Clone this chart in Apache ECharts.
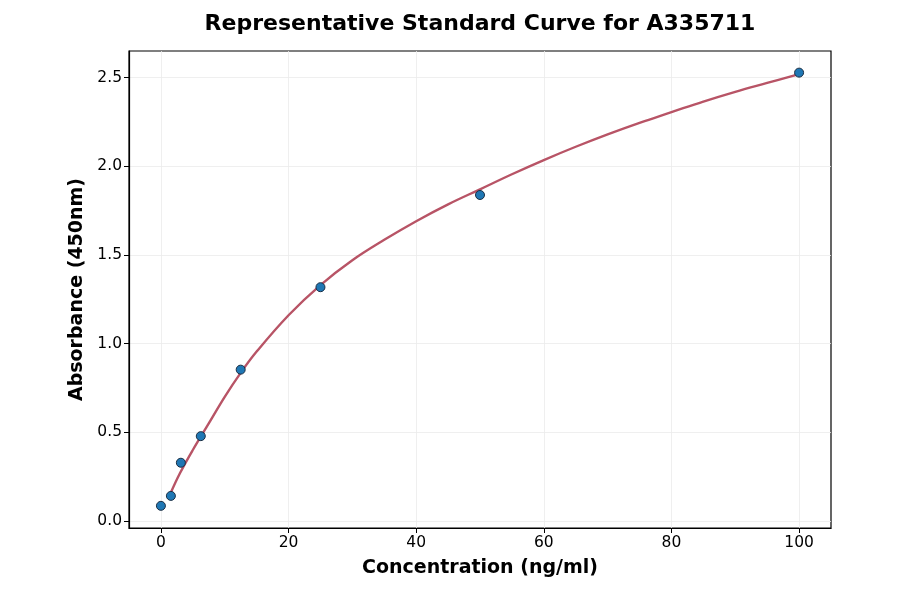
<!DOCTYPE html>
<html>
<head>
<meta charset="utf-8">
<script src="https://cdn.jsdelivr.net/npm/echarts@6/dist/echarts.min.js"></script>
<style>
html,body{margin:0;padding:0;background:#fff;}
#chart{width:900px;height:594px;}
</style>
</head>
<body>
<div id="chart"></div>
<script>
// Measured standards
const concX = [0, 1.5625, 3.125, 6.25, 12.5, 25, 50, 100];
const absY = [0.085, 0.141, 0.328, 0.478, 0.853, 1.318, 1.838, 2.528];
// Fitted curve
const curveX = [1.5625, 3, 5, 7.5, 10, 12.5, 15, 20, 25, 30, 35, 40, 45, 50, 55, 60, 65, 70, 75, 80, 85, 90, 95, 100];
const curveY = [0.16, 0.27, 0.40, 0.55, 0.70, 0.835, 0.955, 1.16, 1.33, 1.47, 1.585, 1.69, 1.785, 1.87, 1.955, 2.035, 2.11, 2.18, 2.245, 2.305, 2.365, 2.42, 2.47, 2.52];
// Tick labels
const xTicks = [0, 20, 40, 60, 80, 100];
const yTicks = [0, 0.5, 1.0, 1.5, 2.0, 2.5];

const font = 'DejaVu Sans';
const chart = echarts.init(document.getElementById('chart'), null, {renderer: 'canvas'});
chart.setOption({
  animation: false,
  backgroundColor: '#fff',
  title: {
    text: 'Representative Standard Curve for A335711',
    left: 475, top: 8, textAlign: 'center',
    textStyle: {fontFamily: font, fontWeight: 'bold', fontSize: 22, color: '#000'}
  },
  grid: {left: 129, top: 51, right: 69, bottom: 66, show: true, borderColor: '#000', borderWidth: 1.2, containLabel: false},
  xAxis: {
    type: 'value', min: -5, max: 105,
    name: 'Concentration (ng/ml)', nameLocation: 'middle', nameGap: 31,
    nameTextStyle: {fontFamily: font, fontWeight: 'bold', fontSize: 19, color: '#000'},
    axisLine: {show: true, onZero: false, lineStyle: {color: '#000', width: 1.2}},
    axisTick: {show: true, length: 5, customValues: xTicks, lineStyle: {color: '#000', width: 1}},
    axisLabel: {customValues: xTicks, fontFamily: font, fontSize: 15.5, color: '#000', margin: 7},
    splitLine: {show: true, lineStyle: {color: '#ebebeb', width: 0.8}}
  },
  yAxis: {
    type: 'value', min: -0.04, max: 2.65,
    name: 'Absorbance (450nm)', nameLocation: 'middle', nameGap: 39, nameRotate: 90,
    nameTextStyle: {fontFamily: font, fontWeight: 'bold', fontSize: 19, color: '#000'},
    axisLine: {show: true, onZero: false, lineStyle: {color: '#000', width: 1.2}},
    axisTick: {show: true, length: 5, customValues: yTicks, lineStyle: {color: '#000', width: 1}},
    axisLabel: {customValues: yTicks, fontFamily: font, fontSize: 15.5, color: '#000', margin: 7,
      formatter: v => v.toFixed(1)},
    splitLine: {show: true, lineStyle: {color: '#ebebeb', width: 0.8}}
  },
  series: [
    {
      type: 'line', smooth: 0.4, showSymbol: false,
      data: curveX.map((x, i) => [x, curveY[i]]),
      lineStyle: {color: '#b85466', width: 2.4},
      z: 2
    },
    {
      type: 'scatter', symbol: 'circle', symbolSize: 9,
      data: concX.map((x, i) => [x, absY[i]]),
      itemStyle: {color: '#1f77b4', borderColor: '#1a2e44', borderWidth: 1, opacity: 1},
      z: 3
    }
  ]
});
</script>
</body>
</html>
